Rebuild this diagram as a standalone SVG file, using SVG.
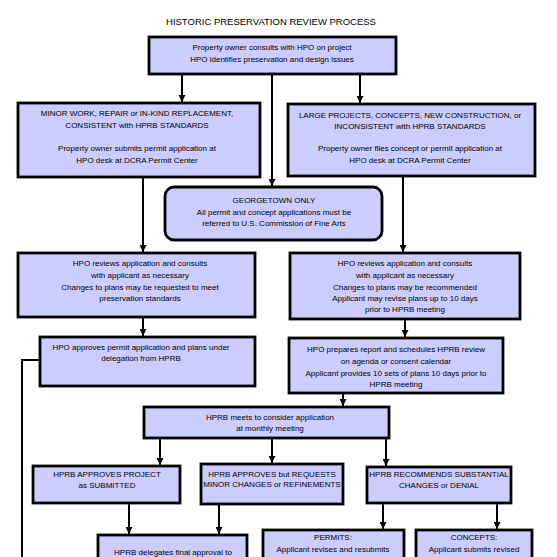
<svg xmlns="http://www.w3.org/2000/svg" width="557" height="557" viewBox="0 0 557 557">
<defs>
<marker id="arr" viewBox="0 0 10 10" refX="10" refY="5" markerWidth="3.5" markerHeight="3.5" orient="auto" markerUnits="strokeWidth">
<path d="M0,0 L10,5 L0,10 z" fill="#000"/>
</marker>
</defs>
<style>
.box{fill:#ccccff;stroke:#000;stroke-width:2.8}
.t{font-family:"Liberation Sans",Arial,sans-serif;font-size:8px;fill:#000;text-anchor:middle}
.title{font-family:"Liberation Sans",Arial,sans-serif;font-size:9.5px;fill:#000;text-anchor:middle}
.c{fill:none;stroke:#000;stroke-width:2}
.ca{fill:none;stroke:#000;stroke-width:2;marker-end:url(#arr)}
</style>
<rect width="557" height="557" fill="#fff"/>
<text class="title" x="271" y="25">HISTORIC PRESERVATION REVIEW PROCESS</text>
<g id="connectors">
<line class="ca" x1="182" y1="74" x2="182" y2="102"/>
<line class="ca" x1="272" y1="74" x2="272" y2="186"/>
<line class="ca" x1="360" y1="74" x2="360" y2="103"/>
<line class="ca" x1="143" y1="177" x2="143" y2="252"/>
<line class="ca" x1="403" y1="176" x2="403" y2="252"/>
<line class="ca" x1="143" y1="317" x2="143" y2="336"/>
<line class="ca" x1="405" y1="319" x2="405" y2="337"/>
<polyline class="c" points="40,360 22,360 22,557"/>
<line class="ca" x1="343" y1="393" x2="343" y2="406"/>
<line class="ca" x1="160" y1="438" x2="160" y2="465"/>
<line class="ca" x1="272" y1="438" x2="272" y2="463"/>
<line class="ca" x1="386" y1="438" x2="386" y2="466"/>
<line class="ca" x1="129" y1="503" x2="129" y2="534"/>
<line class="ca" x1="219" y1="504" x2="219" y2="534"/>
<line class="ca" x1="383" y1="503" x2="383" y2="529"/>
<line class="ca" x1="497" y1="503" x2="497" y2="529"/>
</g>
<g id="n-start">
<rect class="box" x="149" y="37" width="247" height="37"/>
<text class="t" x="272" y="50">Property owner consults with HPO on project</text>
<text class="t" x="272" y="62">HPO identifies preservation and design issues</text>
</g>
<g id="n-minor">
<rect class="box" x="18" y="103" width="242" height="74"/>
<text class="t" x="137" y="116">MINOR WORK, REPAIR or IN-KIND REPLACEMENT,</text>
<text class="t" x="137" y="128">CONSISTENT with HPRB STANDARDS</text>
<text class="t" x="137" y="151">Property owner submits permit application at</text>
<text class="t" x="137" y="163">HPO desk at DCRA Permit Center</text>
</g>
<g id="n-large">
<rect class="box" x="288" y="104" width="247" height="72"/>
<text class="t" x="410" y="118">LARGE PROJECTS, CONCEPTS, NEW CONSTRUCTION, or</text>
<text class="t" x="410" y="129">INCONSISTENT with HPRB STANDARDS</text>
<text class="t" x="410" y="151">Property owner files concept or permit application at</text>
<text class="t" x="410" y="163">HPO desk at DCRA Permit Center</text>
</g>
<g id="n-georgetown">
<rect class="box" x="165" y="187" width="217" height="53" rx="9"/>
<text class="t" x="274" y="203">GEORGETOWN ONLY</text>
<text class="t" x="274" y="215">All permit and concept applications must be</text>
<text class="t" x="274" y="226">referred to U.S. Commission of Fine Arts</text>
</g>
<g id="n-review-left">
<rect class="box" x="18" y="253" width="237" height="64"/>
<text class="t" x="140" y="266">HPO reviews application and consults</text>
<text class="t" x="140" y="278">with applicant as necessary</text>
<text class="t" x="140" y="290">Changes to plans may be requested to meet</text>
<text class="t" x="140" y="301">preservation standards</text>
</g>
<g id="n-review-right">
<rect class="box" x="290" y="253" width="230" height="66"/>
<text class="t" x="405" y="266">HPO reviews application and consults</text>
<text class="t" x="405" y="278">with applicant as necessary</text>
<text class="t" x="405" y="290">Changes to plans may be recommended</text>
<text class="t" x="405" y="301">Applicant may revise plans up to 10 days</text>
<text class="t" x="405" y="312">prior to HPRB meeting</text>
</g>
<g id="n-approve-hpo">
<rect class="box" x="40" y="337" width="215" height="49"/>
<text class="t" x="141" y="350">HPO approves permit application and plans under</text>
<text class="t" x="141" y="361">delegation from HPRB</text>
</g>
<g id="n-schedule">
<rect class="box" x="289" y="338" width="214" height="55"/>
<text class="t" x="396" y="352">HPO prepares report and schedules HPRB review</text>
<text class="t" x="396" y="364">on agenda or consent calendar</text>
<text class="t" x="396" y="376">Applicant provides 10 sets of plans 10 days prior to</text>
<text class="t" x="396" y="387">HPRB meeting</text>
</g>
<g id="n-meets">
<rect class="box" x="144" y="407" width="245" height="31"/>
<text class="t" x="270" y="420">HPRB meets to consider application</text>
<text class="t" x="270" y="431">at monthly meeting</text>
</g>
<g id="n-approves">
<rect class="box" x="33" y="466" width="147" height="37"/>
<text class="t" x="107" y="477">HPRB APPROVES PROJECT</text>
<text class="t" x="107" y="488">as SUBMITTED</text>
</g>
<g id="n-approves-changes">
<rect class="box" x="201" y="464" width="142" height="40"/>
<text class="t" x="272" y="477">HPRB APPROVES but  REQUESTS</text>
<text class="t" x="272" y="487">MINOR CHANGES or REFINEMENTS</text>
</g>
<g id="n-recommends">
<rect class="box" x="367" y="467" width="144" height="36"/>
<text class="t" x="439" y="477">HPRB RECOMMENDS SUBSTANTIAL</text>
<text class="t" x="439" y="488">CHANGES or DENIAL</text>
</g>
<g id="n-delegates">
<rect class="box" x="98" y="535" width="149" height="40"/>
<text class="t" x="173" y="555">HPRB delegates final approval to</text>
</g>
<g id="n-permits">
<rect class="box" x="263" y="530" width="141" height="40"/>
<text class="t" x="333" y="540">PERMITS:</text>
<text class="t" x="333" y="552">Applicant revises and resubmits</text>
</g>
<g id="n-concepts">
<rect class="box" x="416" y="530" width="116" height="40"/>
<text class="t" x="474" y="540">CONCEPTS:</text>
<text class="t" x="474" y="552">Applicant submits revised</text>
</g>
</svg>
